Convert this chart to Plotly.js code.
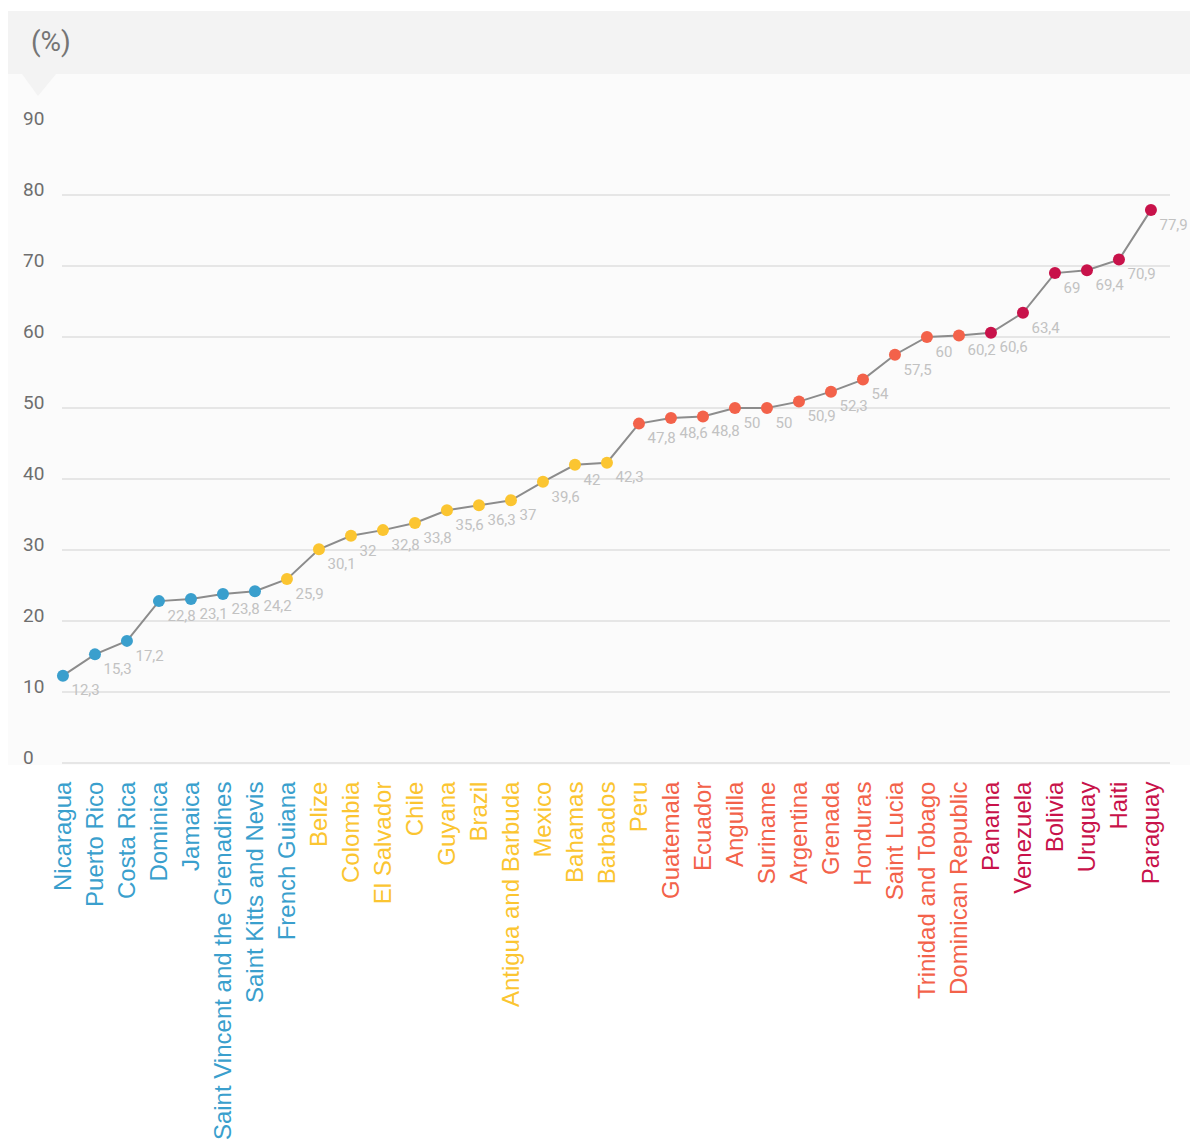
<!DOCTYPE html>
<html>
<head>
<meta charset="utf-8">
<script src="https://cdn.plot.ly/plotly-3.0.1.min.js"></script>
<style>html,body{margin:0;padding:0;background:#fff;}#chart{width:1190px;height:1146px;}</style>
</head>
<body>
<div id="chart"></div>
<script>
const countries = ["Nicaragua","Puerto Rico","Costa Rica","Dominica","Jamaica","Saint Vincent and the Grenadines","Saint Kitts and Nevis","French Guiana","Belize","Colombia","El Salvador","Chile","Guyana","Brazil","Antigua and Barbuda","Mexico","Bahamas","Barbados","Peru","Guatemala","Ecuador","Anguilla","Suriname","Argentina","Grenada","Honduras","Saint Lucia","Trinidad and Tobago","Dominican Republic","Panama","Venezuela","Bolivia","Uruguay","Haiti","Paraguay"];
const values = [12.3,15.3,17.2,22.8,23.1,23.8,24.2,25.9,30.1,32,32.8,33.8,35.6,36.3,37,39.6,42,42.3,47.8,48.6,48.8,50,50,50.9,52.3,54,57.5,60,60.2,60.6,63.4,69,69.4,70.9,77.9];
const markerGroup = [0,0,0,0,0,0,0,1,1,1,1,1,1,1,1,1,1,1,2,2,2,2,2,2,2,2,2,2,2,3,3,3,3,3,3];
const labelGroup  = [0,0,0,0,0,0,0,0,1,1,1,1,1,1,1,1,1,1,1,2,2,2,2,2,2,2,2,2,2,3,3,3,3,3,3];
const groupColors = ["#3a9fcd","#fbc531","#f3624a","#c8124a"];
const yTicks = [0,10,20,30,40,50,60,70,80,90];
const unitLabel = "(%)";

const W = 1190, H = 1146, L = 62, R = 20, T = 124, B = 383;
const pw = W - L - R, ph = H - T - B;
const px = x => (x - L) / pw;
const py = y => (H - B - y) / ph;

const idx = countries.map((c, i) => i);
const tickText = countries.map((c, i) => '<span style="color:' + groupColors[labelGroup[i]] + '">' + c + '</span>');
const valueText = values.map(v => String(v).replace('.', ','));

const trace = {
  type: 'scatter',
  mode: 'lines+markers+text',
  x: idx,
  y: values,
  text: valueText,
  textposition: 'bottom right',
  textfont: {family: 'Roboto', size: 15, color: '#c2c2c2'},
  marker: {size: 12, color: markerGroup.map(g => groupColors[g])},
  line: {color: '#8c8c8c', width: 2},
  cliponaxis: false,
  hoverinfo: 'skip'
};

const annotations = yTicks.map(t => ({
  xref: 'paper', yref: 'y', x: px(21), y: t, yshift: 6,
  xanchor: 'left', yanchor: 'middle', showarrow: false,
  text: String(t), font: {family: 'Roboto', size: 19, color: '#6e6e6e'}
}));
annotations.push({
  xref: 'paper', yref: 'paper', x: px(29), y: py(42), xanchor: 'left', yanchor: 'middle',
  showarrow: false, text: unitLabel, font: {family: 'Roboto', size: 28, color: '#757575'}
});

const shapes = [
  {type: 'rect', xref: 'paper', yref: 'paper', x0: px(8), x1: px(1190), y0: py(765), y1: py(74), fillcolor: '#fbfbfb', line: {width: 0}, layer: 'below'},
  {type: 'rect', xref: 'paper', yref: 'paper', x0: px(8), x1: px(1190), y0: py(74), y1: py(11), fillcolor: '#f3f3f3', line: {width: 0}, layer: 'below'},
  {type: 'path', xref: 'paper', yref: 'paper', path: 'M ' + px(22) + ' ' + py(74) + ' L ' + px(56) + ' ' + py(74) + ' L ' + px(38) + ' ' + py(96) + ' Z', fillcolor: '#f3f3f3', line: {width: 0}, layer: 'below'}
];

const layout = {
  width: W, height: H,
  margin: {l: L, r: R, t: T, b: B, pad: 0},
  paper_bgcolor: '#ffffff',
  plot_bgcolor: 'rgba(0,0,0,0)',
  showlegend: false,
  xaxis: {
    range: [-0.03, 34.595],
    tickmode: 'array', tickvals: idx, ticktext: tickText,
    tickangle: -90,
    tickfont: {family: 'Liberation Sans, Arial, sans-serif', size: 24},
    ticks: 'outside', ticklen: 8, tickcolor: 'rgba(0,0,0,0)',
    showgrid: false, zeroline: false, showline: false
  },
  yaxis: {
    range: [0, 90],
    tickmode: 'array', tickvals: yTicks,
    showticklabels: false,
    gridcolor: '#e6e6e6', gridwidth: 2,
    zeroline: true, zerolinecolor: '#e6e6e6', zerolinewidth: 2,
    showline: false, ticks: ''
  },
  annotations: annotations,
  shapes: shapes
};

Plotly.newPlot('chart', [trace], layout, {displayModeBar: false, staticPlot: true});
</script>
</body>
</html>
